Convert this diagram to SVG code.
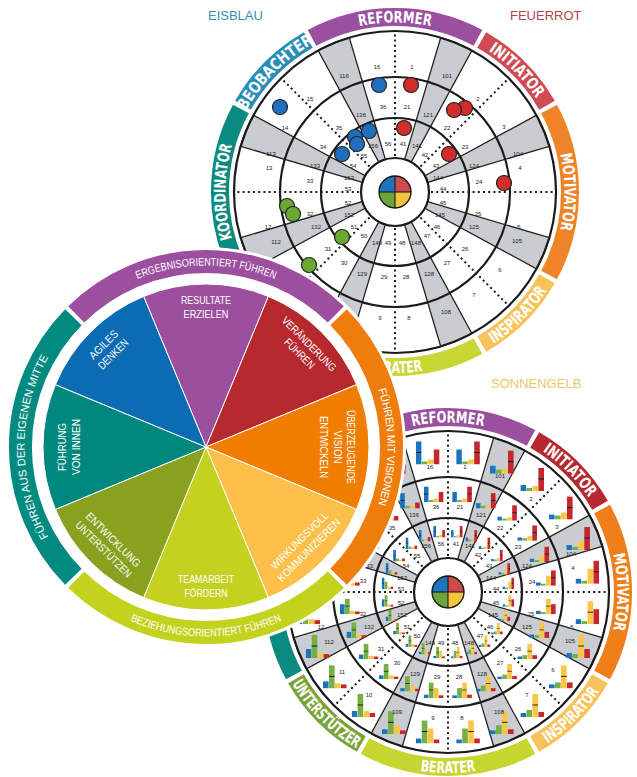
<svg xmlns="http://www.w3.org/2000/svg" width="637" height="777" viewBox="0 0 637 777">
<defs>
<style>
.gw{fill:#c9ccd1;stroke:#222;stroke-width:1.3}
.rg{fill:none;stroke:#1a1a1a;stroke-width:2.2}
.dt{fill:none;stroke:#1a1a1a;stroke-width:2;stroke-dasharray:2 3.2}
.bd{fill:none;stroke-width:18}
.bl{font-family:"Liberation Sans Narrow","DejaVu Sans Condensed","Liberation Sans",sans-serif;font-weight:bold;font-size:16px;fill:#fff;text-anchor:middle}
.n{font-family:"Liberation Sans",Arial,sans-serif;font-size:6px;fill:#222;text-anchor:middle}
.dot{stroke:#222;stroke-width:1.2}
.b{fill:#1c75bc}.g{fill:#76b043}.y{fill:#f9c646}.r{fill:#c4282e}
.k{stroke:#111;stroke-width:0.9;fill:none}
.lb{fill:none;stroke-width:23}
.lt{font-family:"Liberation Sans Narrow","Liberation Sans",sans-serif;font-size:11px;fill:#fff;text-anchor:middle}
.pt{font-family:"Liberation Sans Narrow","Liberation Sans",sans-serif;font-size:11px;fill:#fff;text-anchor:middle}
.hd{font-family:"Liberation Sans",Arial,sans-serif;font-size:13px}
</style>
<path id="cwT" d="M0,169.5A169.5,169.5 0 0 1 0,-169.5A169.5,169.5 0 0 1 0,169.5"/>
<path id="ccwT" d="M0,-181A181,181 0 0 0 0,181A181,181 0 0 0 0,-181"/>
<path id="cwL" d="M0,181.5A181.5,181.5 0 0 1 0,-181.5A181.5,181.5 0 0 1 0,181.5"/>
<path id="ccwL" d="M0,-189.5A189.5,189.5 0 0 0 0,189.5A189.5,189.5 0 0 0 0,-189.5"/>
<g id="grid">
<circle r="162" fill="#fff"/>
<path class="gw" d="M9.66,-32.6L45.72,-154.37A161,161 0 0 1 76.83,-141.49L16.22,-29.88A34,34 0 0 0 9.66,-32.6Z"/>
<path class="gw" d="M29.88,-16.22L141.49,-76.83A161,161 0 0 1 154.37,-45.72L32.6,-9.66A34,34 0 0 0 29.88,-16.22Z"/>
<path class="gw" d="M32.6,9.66L154.37,45.72A161,161 0 0 1 141.49,76.83L29.88,16.22A34,34 0 0 0 32.6,9.66Z"/>
<path class="gw" d="M16.22,29.88L76.83,141.49A161,161 0 0 1 45.72,154.37L9.66,32.6A34,34 0 0 0 16.22,29.88Z"/>
<path class="gw" d="M-9.66,32.6L-45.72,154.37A161,161 0 0 1 -76.83,141.49L-16.22,29.88A34,34 0 0 0 -9.66,32.6Z"/>
<path class="gw" d="M-29.88,16.22L-141.49,76.83A161,161 0 0 1 -154.37,45.72L-32.6,9.66A34,34 0 0 0 -29.88,16.22Z"/>
<path class="gw" d="M-32.6,-9.66L-154.37,-45.72A161,161 0 0 1 -141.49,-76.83L-29.88,-16.22A34,34 0 0 0 -32.6,-9.66Z"/>
<path class="gw" d="M-16.22,-29.88L-76.83,-141.49A161,161 0 0 1 -45.72,-154.37L-9.66,-32.6A34,34 0 0 0 -16.22,-29.88Z"/>
<path class="dt" d="M0,-36V-159M25.46,-25.46L112.43,-112.43M36,0H159M25.46,25.46L112.43,112.43M0,36V159M-25.46,25.46L-112.43,112.43M-36,0H-159M-25.46,-25.46L-112.43,-112.43"/>
<circle class="rg" r="34" stroke-width="1.6"/>
<circle class="rg" r="74"/>
<circle class="rg" r="115"/>
<circle class="rg" r="161"/>
<path fill="#1f74bb" d="M0,0H-16A16,16 0 0 1 0,-16Z"/>
<path fill="#cf4a4c" d="M0,0V-16A16,16 0 0 1 16,0Z"/>
<path fill="#f6c33e" d="M0,0H16A16,16 0 0 1 0,16Z"/>
<path fill="#6aa43a" d="M0,0V16A16,16 0 0 1 -16,0Z"/>
<circle r="16" fill="none" stroke="#111" stroke-width="1.3"/>
<path d="M-16,0H16M0,-16V16" stroke="#111" stroke-width="1"/>
</g>
<g id="nums" class="n">
<text x="-51" y="-114">116</text><text x="-18" y="-123">16</text><text x="17" y="-123">1</text><text x="52" y="-114">101</text>
<text x="-85" y="-91">15</text><text x="83" y="-91">2</text><text x="-110" y="-62">14</text><text x="109" y="-63">3</text>
<text x="-124" y="-36">113</text><text x="123" y="-36">104</text><text x="-126" y="-22">13</text><text x="125" y="-22">4</text>
<text x="-127" y="37">12</text><text x="124" y="37">5</text><text x="-119" y="52">112</text><text x="122" y="51">105</text>
<text x="-106" y="82">11</text><text x="105" y="80">6</text><text x="-79" y="105">10</text><text x="79" y="105">7</text>
<text x="-51" y="122">109</text><text x="51" y="122">108</text><text x="-15" y="128">9</text><text x="14" y="128">8</text>
<text x="-34" y="-75">136</text><text x="-12" y="-83">36</text><text x="12" y="-83">21</text><text x="33" y="-75">121</text>
<text x="-56" y="-62">35</text><text x="52" y="-62">22</text><text x="-72" y="-43">34</text><text x="70" y="-43">23</text>
<text x="-80" y="-24">133</text><text x="79" y="-24">124</text><text x="-85" y="-9">33</text><text x="84" y="-8">24</text>
<text x="-85" y="24">32</text><text x="83" y="24">25</text><text x="-79" y="37">132</text><text x="79" y="37">125</text>
<text x="-67" y="59">31</text><text x="70" y="59">26</text><text x="-51" y="73">30</text><text x="52" y="73">27</text>
<text x="-33" y="84">129</text><text x="-11" y="87">29</text><text x="11" y="87">28</text><text x="34" y="84">128</text>
<text x="-22" y="-44">156</text><text x="-7" y="-46">56</text><text x="8" y="-46">41</text><text x="22" y="-44">141</text>
<text x="-31" y="-34">55</text><text x="30" y="-35">42</text><text x="-42" y="-24">54</text><text x="41" y="-24">43</text>
<text x="-46" y="-12">153</text><text x="43" y="-12">144</text><text x="-47" y="-1">53</text><text x="48" y="-1">44</text>
<text x="-47" y="13">52</text><text x="48" y="13">45</text><text x="-46" y="25">152</text><text x="45" y="25">145</text>
<text x="-41" y="37">51</text><text x="42" y="37">46</text><text x="-31" y="46">50</text><text x="32" y="46">47</text>
<text x="-18" y="53">149</text><text x="-7" y="53">49</text><text x="7" y="53">48</text><text x="21" y="53">148</text>
</g>
<symbol id="c0" viewBox="0 0 24 24" preserveAspectRatio="none"><rect class="b" y="9" width="5.6" height="15"/><rect class="g" x="6" y="21" width="5.6" height="3"/><rect class="y" x="12" y="19" width="5.6" height="5"/><rect class="r" x="18" y="1" width="5.6" height="23"/><path class="k" d="M18,12h5.6"/></symbol>
<symbol id="c1" viewBox="0 0 24 24" preserveAspectRatio="none"><rect class="b" y="16" width="5.6" height="8"/><rect class="g" x="6" y="20" width="5.6" height="4"/><rect class="y" x="12" y="19" width="5.6" height="5"/><rect class="r" x="18" y="1" width="5.6" height="23"/><path class="k" d="M18,12h5.6"/></symbol>
<symbol id="c2" viewBox="0 0 24 24" preserveAspectRatio="none"><rect class="b" y="18" width="5.6" height="6"/><rect class="g" x="6" y="21" width="5.6" height="3"/><rect class="y" x="12" y="19" width="5.6" height="5"/><rect class="r" x="18" y="1" width="5.6" height="23"/><path class="k" d="M18,12h5.6"/></symbol>
<symbol id="c3" viewBox="0 0 24 24" preserveAspectRatio="none"><rect class="b" y="19" width="5.6" height="5"/><rect class="g" x="6" y="20" width="5.6" height="4"/><rect class="y" x="12" y="17" width="5.6" height="7"/><rect class="r" x="18" y="1" width="5.6" height="23"/><path class="k" d="M18,12h5.6"/></symbol>
<symbol id="c4" viewBox="0 0 24 24" preserveAspectRatio="none"><rect class="b" y="19" width="5.6" height="5"/><rect class="g" x="6" y="21" width="5.6" height="3"/><rect class="y" x="12" y="15" width="5.6" height="9"/><rect class="r" x="18" y="1" width="5.6" height="23"/><path class="k" d="M18,12h5.6"/></symbol>
<symbol id="c5" viewBox="0 0 24 24" preserveAspectRatio="none"><rect class="b" y="19" width="5.6" height="5"/><rect class="g" x="6" y="21" width="5.6" height="3"/><rect class="y" x="12" y="9" width="5.6" height="15"/><rect class="r" x="18" y="1" width="5.6" height="23"/><path class="k" d="M18,12h5.6"/></symbol>
<symbol id="c6" viewBox="0 0 24 24" preserveAspectRatio="none"><rect class="b" y="19" width="5.6" height="5"/><rect class="g" x="6" y="21" width="5.6" height="3"/><rect class="y" x="12" y="1" width="5.6" height="23"/><rect class="r" x="18" y="9" width="5.6" height="15"/><path class="k" d="M12,12h5.6"/></symbol>
<symbol id="c7" viewBox="0 0 24 24" preserveAspectRatio="none"><rect class="b" y="19" width="5.6" height="5"/><rect class="g" x="6" y="20" width="5.6" height="4"/><rect class="y" x="12" y="1" width="5.6" height="23"/><rect class="r" x="18" y="15" width="5.6" height="9"/><path class="k" d="M12,12h5.6"/></symbol>
<symbol id="c8" viewBox="0 0 24 24" preserveAspectRatio="none"><rect class="b" y="20" width="5.6" height="4"/><rect class="g" x="6" y="18" width="5.6" height="6"/><rect class="y" x="12" y="1" width="5.6" height="23"/><rect class="r" x="18" y="18" width="5.6" height="6"/><path class="k" d="M12,12h5.6"/></symbol>
<symbol id="c9" viewBox="0 0 24 24" preserveAspectRatio="none"><rect class="b" y="20" width="5.6" height="4"/><rect class="g" x="6" y="17" width="5.6" height="7"/><rect class="y" x="12" y="1" width="5.6" height="23"/><rect class="r" x="18" y="19" width="5.6" height="5"/><path class="k" d="M12,12h5.6"/></symbol>
<symbol id="c10" viewBox="0 0 24 24" preserveAspectRatio="none"><rect class="b" y="20" width="5.6" height="4"/><rect class="g" x="6" y="15" width="5.6" height="9"/><rect class="y" x="12" y="1" width="5.6" height="23"/><rect class="r" x="18" y="19" width="5.6" height="5"/><path class="k" d="M12,12h5.6"/></symbol>
<symbol id="c11" viewBox="0 0 24 24" preserveAspectRatio="none"><rect class="b" y="20" width="5.6" height="4"/><rect class="g" x="6" y="9" width="5.6" height="15"/><rect class="y" x="12" y="1" width="5.6" height="23"/><rect class="r" x="18" y="19" width="5.6" height="5"/><path class="k" d="M12,12h5.6"/></symbol>
<symbol id="c12" viewBox="0 0 24 24" preserveAspectRatio="none"><rect class="b" y="19" width="5.6" height="5"/><rect class="g" x="6" y="1" width="5.6" height="23"/><rect class="y" x="12" y="9" width="5.6" height="15"/><rect class="r" x="18" y="20" width="5.6" height="4"/><path class="k" d="M6,12h5.6"/></symbol>
<symbol id="c13" viewBox="0 0 24 24" preserveAspectRatio="none"><rect class="b" y="19" width="5.6" height="5"/><rect class="g" x="6" y="1" width="5.6" height="23"/><rect class="y" x="12" y="15" width="5.6" height="9"/><rect class="r" x="18" y="20" width="5.6" height="4"/><path class="k" d="M6,12h5.6"/></symbol>
<symbol id="c14" viewBox="0 0 24 24" preserveAspectRatio="none"><rect class="b" y="18" width="5.6" height="6"/><rect class="g" x="6" y="1" width="5.6" height="23"/><rect class="y" x="12" y="18" width="5.6" height="6"/><rect class="r" x="18" y="20" width="5.6" height="4"/><path class="k" d="M6,12h5.6"/></symbol>
<symbol id="c15" viewBox="0 0 24 24" preserveAspectRatio="none"><rect class="b" y="17" width="5.6" height="7"/><rect class="g" x="6" y="1" width="5.6" height="23"/><rect class="y" x="12" y="19" width="5.6" height="5"/><rect class="r" x="18" y="20" width="5.6" height="4"/><path class="k" d="M6,12h5.6"/></symbol>
<symbol id="c16" viewBox="0 0 24 24" preserveAspectRatio="none"><rect class="b" y="15" width="5.6" height="9"/><rect class="g" x="6" y="1" width="5.6" height="23"/><rect class="y" x="12" y="19" width="5.6" height="5"/><rect class="r" x="18" y="20" width="5.6" height="4"/><path class="k" d="M6,12h5.6"/></symbol>
<symbol id="c17" viewBox="0 0 24 24" preserveAspectRatio="none"><rect class="b" y="9" width="5.6" height="15"/><rect class="g" x="6" y="1" width="5.6" height="23"/><rect class="y" x="12" y="19" width="5.6" height="5"/><rect class="r" x="18" y="20" width="5.6" height="4"/><path class="k" d="M6,12h5.6"/></symbol>
<symbol id="c18" viewBox="0 0 24 24" preserveAspectRatio="none"><rect class="b" y="1" width="5.6" height="23"/><rect class="g" x="6" y="9" width="5.6" height="15"/><rect class="y" x="12" y="20" width="5.6" height="4"/><rect class="r" x="18" y="19" width="5.6" height="5"/><path class="k" d="M0,12h5.6"/></symbol>
<symbol id="c19" viewBox="0 0 24 24" preserveAspectRatio="none"><rect class="b" y="1" width="5.6" height="23"/><rect class="g" x="6" y="15" width="5.6" height="9"/><rect class="y" x="12" y="20" width="5.6" height="4"/><rect class="r" x="18" y="19" width="5.6" height="5"/><path class="k" d="M0,12h5.6"/></symbol>
<symbol id="c20" viewBox="0 0 24 24" preserveAspectRatio="none"><rect class="b" y="1" width="5.6" height="23"/><rect class="g" x="6" y="18" width="5.6" height="6"/><rect class="y" x="12" y="20" width="5.6" height="4"/><rect class="r" x="18" y="18" width="5.6" height="6"/><path class="k" d="M0,12h5.6"/></symbol>
<symbol id="c21" viewBox="0 0 24 24" preserveAspectRatio="none"><rect class="b" y="1" width="5.6" height="23"/><rect class="g" x="6" y="19" width="5.6" height="5"/><rect class="y" x="12" y="20" width="5.6" height="4"/><rect class="r" x="18" y="17" width="5.6" height="7"/><path class="k" d="M0,12h5.6"/></symbol>
<symbol id="c22" viewBox="0 0 24 24" preserveAspectRatio="none"><rect class="b" y="1" width="5.6" height="23"/><rect class="g" x="6" y="20" width="5.6" height="4"/><rect class="y" x="12" y="20" width="5.6" height="4"/><rect class="r" x="18" y="15" width="5.6" height="9"/><path class="k" d="M0,12h5.6"/></symbol>
<symbol id="c23" viewBox="0 0 24 24" preserveAspectRatio="none"><rect class="b" y="1" width="5.6" height="23"/><rect class="g" x="6" y="21" width="5.6" height="3"/><rect class="y" x="12" y="19" width="5.6" height="5"/><rect class="r" x="18" y="9" width="5.6" height="15"/><path class="k" d="M0,12h5.6"/></symbol>
</defs>

<rect width="637" height="777" fill="#fff"/>

<g id="colour-names" class="hd">
<text x="208" y="19.5" fill="#3a8db3">EISBLAU</text>
<text x="510" y="19.5" fill="#b0474a">FEUERROT</text>
<text x="491" y="388" fill="#edc66a">SONNENGELB</text>
</g>

<g id="top-wheel" transform="translate(395,192)">
<path class="bd" stroke="#9b4f9f" d="M-82.97,-154.09A175,175 0 0 1 82.97,-154.09"/>
<path class="bd" stroke="#cd4b51" d="M86.71,-152.01A175,175 0 0 1 152.01,-86.71"/>
<path class="bd" stroke="#ef8328" d="M154.09,-82.97A175,175 0 0 1 154.09,82.97"/>
<path class="bd" stroke="#f7c35a" d="M152.01,86.71A175,175 0 0 1 86.71,152.01"/>
<path class="bd" stroke="#c8d636" d="M82.97,154.09A175,175 0 0 1 -82.97,154.09"/>
<path class="bd" stroke="#7ca63c" d="M-86.71,152.01A175,175 0 0 1 -152.01,86.71"/>
<path class="bd" stroke="#0b8a80" d="M-154.09,82.97A175,175 0 0 1 -154.09,-82.97"/>
<path class="bd" stroke="#2a8db7" d="M-152.01,-86.71A175,175 0 0 1 -86.71,-152.01"/>
<use href="#grid"/>
<use href="#nums"/>
<g id="dots">
<circle class="dot" fill="#1f6fc0" cx="-16" cy="-107" r="7.5"/>
<circle class="dot" fill="#d22c2c" cx="16" cy="-107" r="7.5"/>
<circle class="dot" fill="#1f6fc0" cx="-115" cy="-85" r="7.5"/>
<circle class="dot" fill="#d22c2c" cx="70" cy="-84" r="7.5"/>
<circle class="dot" fill="#d22c2c" cx="59" cy="-82" r="7.5"/>
<circle class="dot" fill="#d22c2c" cx="9" cy="-64" r="7.5"/>
<circle class="dot" fill="#1f6fc0" cx="-26" cy="-61" r="7.5"/>
<circle class="dot" fill="#1f6fc0" cx="-40" cy="-55" r="7.5"/>
<circle class="dot" fill="#1f6fc0" cx="-38" cy="-48" r="7.5"/>
<circle class="dot" fill="#1f6fc0" cx="-53" cy="-38" r="7.5"/>
<circle class="dot" fill="#d22c2c" cx="54" cy="-38" r="7.5"/>
<circle class="dot" fill="#d22c2c" cx="109" cy="-9" r="7.5"/>
<circle class="dot" fill="#6aa832" cx="-108" cy="14" r="7.5"/>
<circle class="dot" fill="#6aa832" cx="-102" cy="22" r="7.5"/>
<circle class="dot" fill="#6aa832" cx="-53" cy="45" r="7.5"/>
<circle class="dot" fill="#6aa832" cx="-86" cy="73" r="7.5"/>
</g>
<text class="bl"><textPath href="#cwT" startOffset="50%" textLength="72" lengthAdjust="spacingAndGlyphs">REFORMER</textPath></text>
<text class="bl"><textPath href="#cwT" startOffset="62.5%" textLength="68" lengthAdjust="spacingAndGlyphs">INITIATOR</textPath></text>
<text class="bl"><textPath href="#cwT" startOffset="75%" textLength="76" lengthAdjust="spacingAndGlyphs">MOTIVATOR</textPath></text>
<text class="bl"><textPath href="#cwT" startOffset="25%" textLength="95" lengthAdjust="spacingAndGlyphs">KOORDINATOR</textPath></text>
<text class="bl"><textPath href="#cwT" startOffset="37.5%" textLength="97" lengthAdjust="spacingAndGlyphs">BEOBACHTER</textPath></text>
<text class="bl"><textPath href="#ccwT" startOffset="62.5%" textLength="76" lengthAdjust="spacingAndGlyphs">INSPIRATOR</textPath></text>
<text class="bl"><textPath href="#ccwT" startOffset="50%" textLength="56" lengthAdjust="spacingAndGlyphs">BERATER</textPath></text>
</g>

<g id="bottom-wheel" transform="translate(448,592)">
<path class="bd" stroke="#9a4f9f" d="M-82.97,-154.09A175,175 0 0 1 82.97,-154.09"/>
<path class="bd" stroke="#b4282e" d="M86.71,-152.01A175,175 0 0 1 152.01,-86.71"/>
<path class="bd" stroke="#ef7f1a" d="M154.09,-82.97A175,175 0 0 1 154.09,82.97"/>
<path class="bd" stroke="#f8c25a" d="M152.01,86.71A175,175 0 0 1 86.71,152.01"/>
<path class="bd" stroke="#c6d530" d="M82.97,154.09A175,175 0 0 1 -82.97,154.09"/>
<path class="bd" stroke="#7aa43a" d="M-86.71,152.01A175,175 0 0 1 -152.01,86.71"/>
<path class="bd" stroke="#0b8a80" d="M-154.09,82.97A175,175 0 0 1 -154.09,-82.97"/>
<path class="bd" stroke="#2a8db7" d="M-152.01,-86.71A175,175 0 0 1 -86.71,-152.01"/>
<use href="#grid"/>
<g id="charts-outer">
<use href="#c0" x="8.2" y="-151.5" width="24" height="24"/>
<use href="#c1" x="42" y="-142.3" width="24" height="24"/>
<use href="#c2" x="72.4" y="-125" width="24" height="24"/>
<use href="#c3" x="101" y="-96.4" width="24" height="24"/>
<use href="#c4" x="118.3" y="-66" width="24" height="24"/>
<use href="#c5" x="127.5" y="-32.2" width="24" height="24"/>
<use href="#c6" x="127.5" y="8.2" width="24" height="24"/>
<use href="#c7" x="118.3" y="42" width="24" height="24"/>
<use href="#c8" x="101" y="72.4" width="24" height="24"/>
<use href="#c9" x="72.4" y="101" width="24" height="24"/>
<use href="#c10" x="42" y="118.3" width="24" height="24"/>
<use href="#c11" x="8.2" y="127.5" width="24" height="24"/>
<use href="#c12" x="-32.2" y="127.5" width="24" height="24"/>
<use href="#c13" x="-66" y="118.3" width="24" height="24"/>
<use href="#c14" x="-96.4" y="101" width="24" height="24"/>
<use href="#c15" x="-125" y="72.4" width="24" height="24"/>
<use href="#c16" x="-142.3" y="42" width="24" height="24"/>
<use href="#c17" x="-151.5" y="8.2" width="24" height="24"/>
<use href="#c18" x="-151.5" y="-32.2" width="24" height="24"/>
<use href="#c19" x="-142.3" y="-66" width="24" height="24"/>
<use href="#c20" x="-125" y="-96.4" width="24" height="24"/>
<use href="#c21" x="-96.4" y="-125" width="24" height="24"/>
<use href="#c22" x="-66" y="-142.3" width="24" height="24"/>
<use href="#c23" x="-32.2" y="-151.5" width="24" height="24"/>
</g>
<g id="charts-middle">
<use href="#c0" x="4.2" y="-106" width="20" height="16"/>
<use href="#c1" x="27.9" y="-99.5" width="20" height="16"/>
<use href="#c2" x="49.2" y="-87.3" width="20" height="16"/>
<use href="#c3" x="69.3" y="-67.2" width="20" height="16"/>
<use href="#c4" x="81.5" y="-45.9" width="20" height="16"/>
<use href="#c5" x="88" y="-22.2" width="20" height="16"/>
<use href="#c6" x="88" y="6.2" width="20" height="16"/>
<use href="#c7" x="81.5" y="29.9" width="20" height="16"/>
<use href="#c8" x="69.3" y="51.2" width="20" height="16"/>
<use href="#c9" x="49.2" y="71.3" width="20" height="16"/>
<use href="#c10" x="27.9" y="83.5" width="20" height="16"/>
<use href="#c11" x="4.2" y="90" width="20" height="16"/>
<use href="#c12" x="-24.2" y="90" width="20" height="16"/>
<use href="#c13" x="-47.9" y="83.5" width="20" height="16"/>
<use href="#c14" x="-69.2" y="71.3" width="20" height="16"/>
<use href="#c15" x="-89.3" y="51.2" width="20" height="16"/>
<use href="#c16" x="-101.5" y="29.9" width="20" height="16"/>
<use href="#c17" x="-108" y="6.2" width="20" height="16"/>
<use href="#c18" x="-108" y="-22.2" width="20" height="16"/>
<use href="#c19" x="-101.5" y="-45.9" width="20" height="16"/>
<use href="#c20" x="-89.3" y="-67.2" width="20" height="16"/>
<use href="#c21" x="-69.2" y="-87.3" width="20" height="16"/>
<use href="#c22" x="-47.9" y="-99.5" width="20" height="16"/>
<use href="#c23" x="-24.2" y="-106" width="20" height="16"/>
</g>
<g id="charts-inner">
<use href="#c0" x="2.8" y="-66.4" width="12" height="12"/>
<use href="#c1" x="17.3" y="-62.4" width="12" height="12"/>
<use href="#c2" x="30.5" y="-54.9" width="12" height="12"/>
<use href="#c3" x="42.9" y="-42.5" width="12" height="12"/>
<use href="#c4" x="50.4" y="-29.3" width="12" height="12"/>
<use href="#c5" x="54.4" y="-14.8" width="12" height="12"/>
<use href="#c6" x="54.4" y="2.8" width="12" height="12"/>
<use href="#c7" x="50.4" y="17.3" width="12" height="12"/>
<use href="#c8" x="42.9" y="30.5" width="12" height="12"/>
<use href="#c9" x="30.5" y="42.9" width="12" height="12"/>
<use href="#c10" x="17.3" y="50.4" width="12" height="12"/>
<use href="#c11" x="2.8" y="54.4" width="12" height="12"/>
<use href="#c12" x="-14.8" y="54.4" width="12" height="12"/>
<use href="#c13" x="-29.3" y="50.4" width="12" height="12"/>
<use href="#c14" x="-42.5" y="42.9" width="12" height="12"/>
<use href="#c15" x="-54.9" y="30.5" width="12" height="12"/>
<use href="#c16" x="-62.4" y="17.3" width="12" height="12"/>
<use href="#c17" x="-66.4" y="2.8" width="12" height="12"/>
<use href="#c18" x="-66.4" y="-14.8" width="12" height="12"/>
<use href="#c19" x="-62.4" y="-29.3" width="12" height="12"/>
<use href="#c20" x="-54.9" y="-42.5" width="12" height="12"/>
<use href="#c21" x="-42.5" y="-54.9" width="12" height="12"/>
<use href="#c22" x="-29.3" y="-62.4" width="12" height="12"/>
<use href="#c23" x="-14.8" y="-66.4" width="12" height="12"/>
</g>
<use href="#nums"/>
<text class="bl"><textPath href="#cwT" startOffset="50%" textLength="72" lengthAdjust="spacingAndGlyphs">REFORMER</textPath></text>
<text class="bl"><textPath href="#cwT" startOffset="62.5%" textLength="66" lengthAdjust="spacingAndGlyphs">INITIATOR</textPath></text>
<text class="bl"><textPath href="#cwT" startOffset="75%" textLength="76" lengthAdjust="spacingAndGlyphs">MOTIVATOR</textPath></text>
<text class="bl"><textPath href="#ccwT" startOffset="62.5%" textLength="74" lengthAdjust="spacingAndGlyphs">INSPIRATOR</textPath></text>
<text class="bl"><textPath href="#ccwT" startOffset="50%" textLength="56" lengthAdjust="spacingAndGlyphs">BERATER</textPath></text>
<text class="bl"><textPath href="#ccwT" startOffset="37.5%" textLength="92" lengthAdjust="spacingAndGlyphs">UNTERSTÜTZER</textPath></text>
</g>

<g id="left-wheel" transform="translate(206,447)">
<circle r="200" fill="#fff"/>
<path class="lb" stroke="#9d4f9f" d="M-129.8,-132.6A185.5,185.5 0 0 1 129.8,-132.6"/>
<path class="lb" stroke="#ef7d0b" d="M132.6,-129.8A185.5,185.5 0 0 1 132.6,129.8"/>
<path class="lb" stroke="#c3d21d" d="M129.8,132.6A185.5,185.5 0 0 1 -129.8,132.6"/>
<path class="lb" stroke="#008a80" d="M-132.6,129.8A185.5,185.5 0 0 1 -132.6,-129.8"/>
<g stroke="#fff" stroke-width="1">
<path fill="#9c4f9c" d="M0,0L-62.38,-150.59A163,163 0 0 1 62.38,-150.59Z"/>
<path fill="#b5292f" d="M0,0L62.38,-150.59A163,163 0 0 1 150.59,-62.38Z"/>
<path fill="#ef7d00" d="M0,0L150.59,-62.38A163,163 0 0 1 150.59,62.38Z"/>
<path fill="#fbbf4a" d="M0,0L150.59,62.38A163,163 0 0 1 62.38,150.59Z"/>
<path fill="#c4d21f" d="M0,0L62.38,150.59A163,163 0 0 1 -62.38,150.59Z"/>
<path fill="#88a11e" d="M0,0L-62.38,150.59A163,163 0 0 1 -150.59,62.38Z"/>
<path fill="#00877e" d="M0,0L-150.59,62.38A163,163 0 0 1 -150.59,-62.38Z"/>
<path fill="#0b6bb3" d="M0,0L-150.59,-62.38A163,163 0 0 1 -62.38,-150.59Z"/>
</g>
<text class="lt"><textPath href="#cwL" startOffset="25%" textLength="188" lengthAdjust="spacingAndGlyphs">FÜHREN AUS DER EIGENEN MITTE</textPath></text>
<text class="lt"><textPath href="#cwL" startOffset="50%" textLength="141" lengthAdjust="spacingAndGlyphs">ERGEBNISORIENTIERT FÜHREN</textPath></text>
<text class="lt"><textPath href="#cwL" startOffset="75%" textLength="117" lengthAdjust="spacingAndGlyphs">FÜHREN MIT VISIONEN</textPath></text>
<text class="lt"><textPath href="#ccwL" startOffset="50%" textLength="156" lengthAdjust="spacingAndGlyphs">BEZIEHUNGSORIENTIERT FÜHREN</textPath></text>
<g transform="translate(0,-140)"><text class="pt" y="-3" textLength="50" lengthAdjust="spacingAndGlyphs">RESULTATE</text><text class="pt" y="10.5" textLength="45" lengthAdjust="spacingAndGlyphs">ERZIELEN</text></g>
<g transform="rotate(45) translate(0,-139)"><text class="pt" y="-3" textLength="72" lengthAdjust="spacingAndGlyphs">VERÄNDERUNG</text><text class="pt" y="10.5" textLength="38" lengthAdjust="spacingAndGlyphs">FÜHREN</text></g>
<g transform="rotate(90) translate(0,-131)"><text class="pt" y="-10" textLength="74" lengthAdjust="spacingAndGlyphs">ÜBERZEUGENDE</text><text class="pt" y="3.5" textLength="33" lengthAdjust="spacingAndGlyphs">VISION</text><text class="pt" y="17" textLength="62" lengthAdjust="spacingAndGlyphs">ENTWICKELN</text></g>
<g transform="rotate(135) translate(0,-139) rotate(180)"><text class="pt" y="-3" textLength="76" lengthAdjust="spacingAndGlyphs">WIRKUNGSVOLL</text><text class="pt" y="10.5" textLength="84" lengthAdjust="spacingAndGlyphs">KOMMUNIZIEREN</text></g>
<g transform="translate(0,139)"><text class="pt" y="-3" textLength="56" lengthAdjust="spacingAndGlyphs">TEAMARBEIT</text><text class="pt" y="10.5" textLength="43" lengthAdjust="spacingAndGlyphs">FÖRDERN</text></g>
<g transform="rotate(225) translate(0,-138) rotate(180)"><text class="pt" y="-3" textLength="72" lengthAdjust="spacingAndGlyphs">ENTWICKLUNG</text><text class="pt" y="10.5" textLength="74" lengthAdjust="spacingAndGlyphs">UNTERSTÜTZEN</text></g>
<g transform="rotate(-90) translate(0,-137)"><text class="pt" y="-3" textLength="48" lengthAdjust="spacingAndGlyphs">FÜHRUNG</text><text class="pt" y="10.5" textLength="56" lengthAdjust="spacingAndGlyphs">VON INNEN</text></g>
<g transform="rotate(-45) translate(0,-138)"><text class="pt" y="-3" textLength="36" lengthAdjust="spacingAndGlyphs">AGILES</text><text class="pt" y="10.5" textLength="38" lengthAdjust="spacingAndGlyphs">DENKEN</text></g>
</g>
</svg>
